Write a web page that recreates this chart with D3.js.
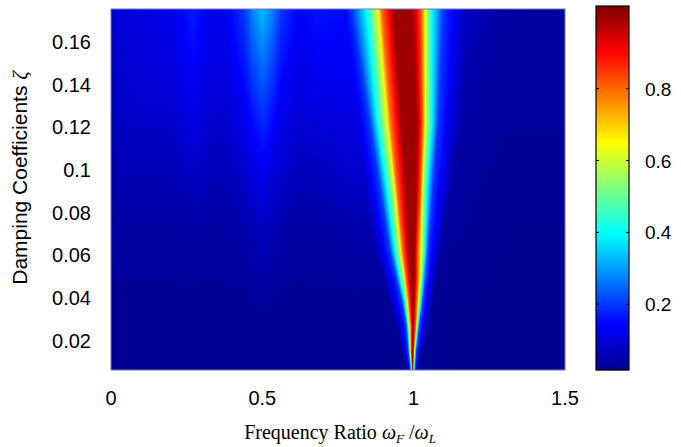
<!DOCTYPE html>
<html><head><meta charset="utf-8">
<script src="https://cdn.jsdelivr.net/npm/d3@7"></script>
<style>body{margin:0;background:#fff;overflow:hidden}</style>
</head><body>
<svg id="chart" width="681" height="447"></svg>
<script>
// ---------- data ----------
const xTicks = [0, 0.5, 1, 1.5];
const xTickLabels = ["0", "0.5", "1", "1.5"];
const yTicks = [0.02, 0.04, 0.06, 0.08, 0.1, 0.12, 0.14, 0.16];
const yTickLabels = ["0.02", "0.04", "0.06", "0.08", "0.1", "0.12", "0.14", "0.16"];
const cbTicks = [0.2, 0.4, 0.6, 0.8];
const cbTickLabels = ["0.2", "0.4", "0.6", "0.8"];
const colorRange = [0.017, 1.03];

// resonance band near ratio 1: contour levels and their left/right x positions per damping row
const levels = [0.05, 0.2, 0.4, 0.6, 0.8, 0.92, 1.0];
const peakZeta = [0.005, 0.015, 0.027, 0.038, 0.05, 0.062, 0.092, 0.122, 0.175];
const peakLeft = [
  [0.984, 0.990, 0.992, 0.994, 0.995, 0.996, 0.9965],
  [0.964, 0.982, 0.986, 0.989, 0.991, 0.994, 0.9965],
  [0.948, 0.974, 0.981, 0.984, 0.991, 0.994, 0.9955],
  [0.921, 0.961, 0.971, 0.977, 0.984, 0.991, 0.994],
  [0.901, 0.941, 0.954, 0.967, 0.974, 0.984, 0.991],
  [0.872, 0.921, 0.938, 0.954, 0.964, 0.977, 0.984],
  [0.829, 0.888, 0.911, 0.934, 0.944, 0.964, 0.974],
  [0.789, 0.855, 0.881, 0.908, 0.925, 0.948, 0.958],
  [0.739, 0.796, 0.845, 0.878, 0.895, 0.921, 0.932]
];
const peakRight = [
  [1.012, 1.004, 1.002, 1.000, 0.999, 0.998, 0.9975],
  [1.027, 1.009, 1.0055, 1.002, 1.0005, 0.999, 0.998],
  [1.047, 1.020, 1.014, 1.010, 1.007, 1.0005, 0.999],
  [1.060, 1.030, 1.024, 1.017, 1.010, 1.004, 1.0005],
  [1.073, 1.040, 1.030, 1.024, 1.014, 1.007, 1.002],
  [1.087, 1.047, 1.037, 1.027, 1.014, 1.007, 1.004],
  [1.120, 1.063, 1.044, 1.030, 1.024, 1.014, 1.007],
  [1.153, 1.080, 1.060, 1.040, 1.030, 1.020, 1.010],
  [1.186, 1.097, 1.060, 1.040, 1.027, 1.010, 0.994]
];

// background field (away from the main resonance)
const bgX = [0, 0.02, 0.1, 0.2, 0.27, 0.32, 0.37, 0.44, 0.47, 0.5, 0.53, 0.56, 0.62, 0.68, 0.75, 0.8, 1.2, 1.3, 1.4, 1.5];
const bgZeta = [0.005, 0.04, 0.07, 0.1, 0.13, 0.155, 0.175];
const bgValues = [
  [0.02, 0.02, 0.02, 0.02, 0.02, 0.02, 0.02, 0.02, 0.02, 0.02, 0.02, 0.02, 0.02, 0.02, 0.02, 0.02, 0.02, 0.02, 0.02, 0.02],
  [0.02, 0.025, 0.025, 0.025, 0.025, 0.025, 0.025, 0.025, 0.028, 0.03, 0.028, 0.025, 0.025, 0.025, 0.025, 0.025, 0.02, 0.02, 0.02, 0.02],
  [0.03, 0.035, 0.035, 0.035, 0.04, 0.035, 0.035, 0.045, 0.06, 0.07, 0.06, 0.045, 0.035, 0.04, 0.04, 0.05, 0.025, 0.02, 0.02, 0.02],
  [0.04, 0.06, 0.06, 0.06, 0.08, 0.07, 0.06, 0.09, 0.11, 0.13, 0.11, 0.09, 0.07, 0.07, 0.08, 0.09, 0.03, 0.025, 0.025, 0.025],
  [0.05, 0.08, 0.09, 0.09, 0.12, 0.10, 0.09, 0.13, 0.17, 0.20, 0.17, 0.13, 0.10, 0.11, 0.11, 0.12, 0.04, 0.03, 0.03, 0.03],
  [0.06, 0.09, 0.10, 0.11, 0.15, 0.12, 0.11, 0.17, 0.23, 0.27, 0.23, 0.17, 0.12, 0.14, 0.14, 0.14, 0.05, 0.03, 0.03, 0.03],
  [0.06, 0.10, 0.11, 0.12, 0.17, 0.13, 0.12, 0.20, 0.28, 0.33, 0.28, 0.20, 0.14, 0.16, 0.15, 0.15, 0.07, 0.04, 0.03, 0.03]
];

// ---------- layout ----------
const plot = {left: 111, right: 565, top: 9, bottom: 370};
const cbar = {left: 596, right: 629, top: 6, bottom: 370};
const svg = d3.select("#chart");
const x = d3.scaleLinear().domain([0, 1.5]).range([plot.left, plot.right]);
const y = d3.scaleLinear().domain([0.0062, 0.1755]).range([plot.bottom, plot.top]);

const jetStops = [0, 0.125, 0.375, 0.625, 0.875, 1];
const jetColors = ["#000090", "#0000ff", "#00ffff", "#ffff00", "#ff0000", "#800000"];
const color = d3.scaleLinear()
  .domain(jetStops.map(t => colorRange[0] + t * (colorRange[1] - colorRange[0])))
  .range(jetColors).interpolate(d3.interpolateRgb).clamp(true);

function interpRow(z, table) {
  if (z <= peakZeta[0]) return table[0];
  if (z >= peakZeta[peakZeta.length - 1]) return table[table.length - 1];
  const i = d3.bisectRight(peakZeta, z) - 1;
  const f = (z - peakZeta[i]) / (peakZeta[i + 1] - peakZeta[i]);
  return table[i].map((v, k) => v + f * (table[i + 1][k] - v));
}
function peakVal(xv, Lb, Rb) {
  const n = levels.length;
  if (xv <= Lb[0] || xv >= Rb[0]) return 0;
  if (xv >= Lb[n - 1] && xv <= Rb[n - 1]) return levels[n - 1];
  if (xv < Lb[n - 1]) {
    for (let k = 0; k < n - 1; k++) if (xv < Lb[k + 1])
      return levels[k] + (levels[k + 1] - levels[k]) * (xv - Lb[k]) / (Lb[k + 1] - Lb[k]);
  } else {
    for (let k = 0; k < n - 1; k++) if (xv > Rb[k + 1])
      return levels[k] + (levels[k + 1] - levels[k]) * (Rb[k] - xv) / (Rb[k] - Rb[k + 1]);
  }
  return levels[n - 1];
}
function bgVal(xv, z) {
  const zc = Math.max(bgZeta[0], Math.min(bgZeta[bgZeta.length - 1], z));
  const xc = Math.max(bgX[0], Math.min(bgX[bgX.length - 1], xv));
  let j = Math.min(bgZeta.length - 2, d3.bisectRight(bgZeta, zc) - 1);
  let i = Math.min(bgX.length - 2, d3.bisectRight(bgX, xc) - 1);
  const fz = (zc - bgZeta[j]) / (bgZeta[j + 1] - bgZeta[j]);
  const fx = (xc - bgX[i]) / (bgX[i + 1] - bgX[i]);
  const a = bgValues[j][i] * (1 - fx) + bgValues[j][i + 1] * fx;
  const b = bgValues[j + 1][i] * (1 - fx) + bgValues[j + 1][i + 1] * fx;
  return a * (1 - fz) + b * fz;
}

// ---------- heat map raster ----------
const W = plot.right - plot.left, H = plot.bottom - plot.top;
const cv = document.createElement("canvas");
cv.width = W; cv.height = H;
const ctx = cv.getContext("2d");
const img = ctx.createImageData(W, H);
const SS = 4;
for (let py = 0; py < H; py++) {
  const z = y.invert(plot.top + py + 0.5);
  const Lb = interpRow(z, peakLeft), Rb = interpRow(z, peakRight);
  for (let px = 0; px < W; px++) {
    let r = 0, g = 0, b = 0;
    for (let s = 0; s < SS; s++) {
      const xv = x.invert(plot.left + px + (s + 0.5) / SS);
      const v = Math.max(bgVal(xv, z), peakVal(xv, Lb, Rb));
      const c = d3.rgb(color(v));
      r += c.r; g += c.g; b += c.b;
    }
    const o = (py * W + px) * 4;
    img.data[o] = r / SS; img.data[o + 1] = g / SS; img.data[o + 2] = b / SS; img.data[o + 3] = 255;
  }
}
ctx.putImageData(img, 0, 0);
svg.append("image")
  .attr("x", plot.left).attr("y", plot.top).attr("width", W).attr("height", H)
  .attr("preserveAspectRatio", "none")
  .attr("href", cv.toDataURL());

svg.append("rect")
  .attr("x", plot.left).attr("y", plot.top).attr("width", W).attr("height", H)
  .attr("fill", "none").attr("stroke", "#7474c4").attr("stroke-width", 1);

// ---------- axes ----------
const font = "Liberation Sans, Arial, Helvetica, sans-serif";
const serif = "Liberation Serif, Times New Roman, serif";
svg.append("g").selectAll("text").data(xTicks).join("text")
  .attr("x", d => x(d)).attr("y", 405)
  .attr("text-anchor", "middle").attr("font-family", font).attr("font-size", 20).attr("fill", "#000")
  .text((d, i) => xTickLabels[i]);
svg.append("g").selectAll("text").data(yTicks).join("text")
  .attr("x", 91).attr("y", d => y(d) + 7)
  .attr("text-anchor", "end").attr("font-family", font).attr("font-size", 20).attr("fill", "#000")
  .text((d, i) => yTickLabels[i]);

// x label
const xl = svg.append("text").attr("x", 340).attr("y", 439).attr("text-anchor", "middle")
  .attr("font-family", serif).attr("font-size", 20).attr("fill", "#000");
xl.append("tspan").text("Frequency Ratio ");
xl.append("tspan").attr("font-style", "italic").text("ω");
xl.append("tspan").attr("font-style", "italic").attr("font-size", 13).attr("dy", 4).text("F");
xl.append("tspan").attr("dy", -4).text(" /");
xl.append("tspan").attr("font-style", "italic").text("ω");
xl.append("tspan").attr("font-style", "italic").attr("font-size", 13).attr("dy", 4).text("L");

// y label
const yl = svg.append("text").attr("transform", "translate(27,178) rotate(-90)").attr("text-anchor", "middle")
  .attr("font-family", font).attr("font-size", 21).attr("fill", "#000");
yl.append("tspan").text("Damping Coefficients ");
yl.append("tspan").attr("font-family", serif).attr("font-style", "italic").text("ζ");

// ---------- colorbar ----------
const cy = d3.scaleLinear().domain(colorRange).range([cbar.bottom, cbar.top]);
const cbSteps = d3.range(cbar.bottom - cbar.top).map(i => cy.invert(cbar.bottom - i - 0.5));
svg.append("g").selectAll("rect").data(cbSteps).join("rect")
  .attr("x", cbar.left).attr("width", cbar.right - cbar.left)
  .attr("y", d => cy(d) - 0.5).attr("height", 1.2)
  .attr("fill", d => color(d));
svg.append("rect").attr("x", cbar.left).attr("y", cbar.top)
  .attr("width", cbar.right - cbar.left).attr("height", cbar.bottom - cbar.top)
  .attr("fill", "none").attr("stroke", "#000").attr("stroke-width", 1.2);
const cbt = svg.append("g");
cbt.selectAll("line.l").data(cbTicks).join("line").attr("class", "l")
  .attr("x1", cbar.left).attr("x2", cbar.left + 3).attr("y1", d => cy(d)).attr("y2", d => cy(d))
  .attr("stroke", "#000");
cbt.selectAll("line.r").data(cbTicks).join("line").attr("class", "r")
  .attr("x1", cbar.right - 3).attr("x2", cbar.right).attr("y1", d => cy(d)).attr("y2", d => cy(d))
  .attr("stroke", "#000");
cbt.selectAll("text").data(cbTicks).join("text")
  .attr("x", 645).attr("y", d => cy(d) + 7)
  .attr("font-family", font).attr("font-size", 19).attr("fill", "#000")
  .text((d, i) => cbTickLabels[i]);
</script>
</body></html>
